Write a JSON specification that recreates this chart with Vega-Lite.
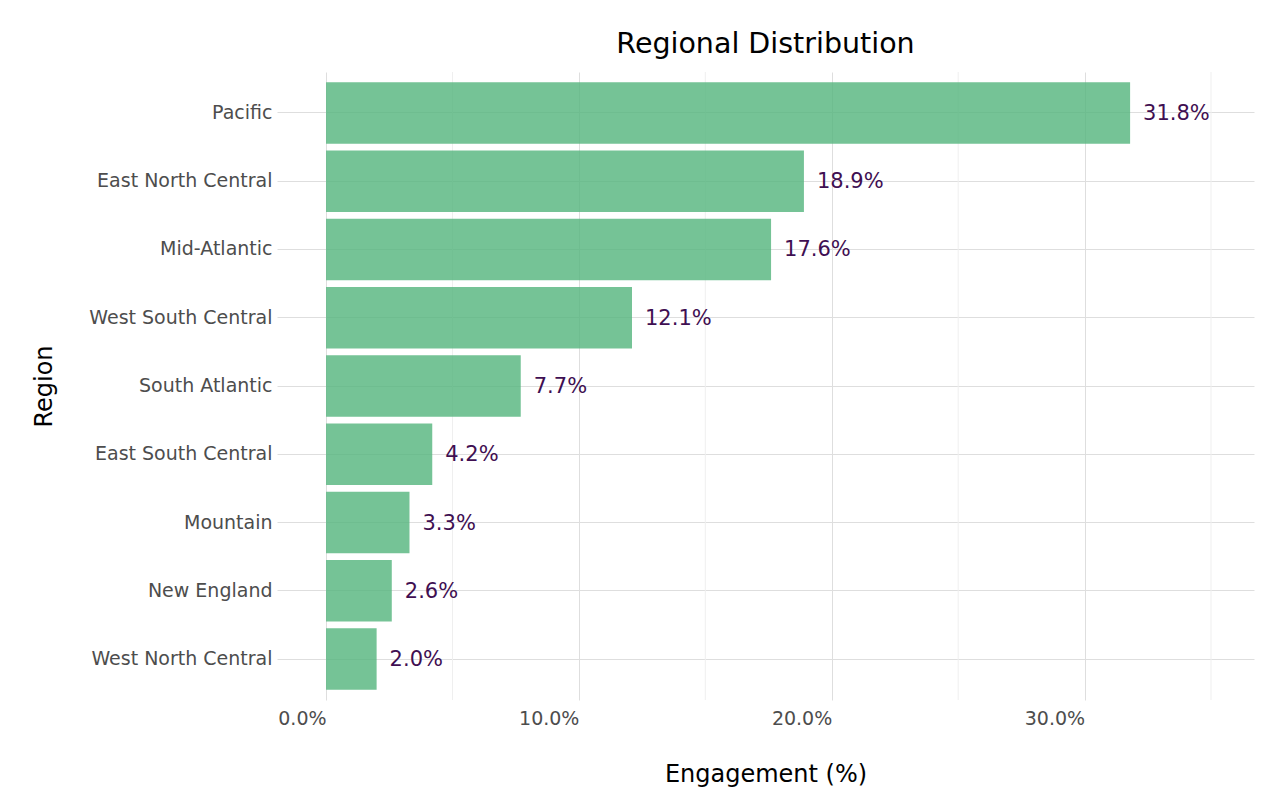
{
  "$schema": "https://vega.github.io/schema/vega-lite/v6.json",
  "autosize": {"type": "none"},
  "padding": {"left": 277, "top": 72, "right": 25, "bottom": 92},
  "width": 977,
  "height": 628,
  "background": "white",
  "title": {
    "text": "Regional Distribution",
    "fontSize": 28.5,
    "fontWeight": "normal",
    "color": "#000000",
    "anchor": "middle",
    "offset": 13
  },
  "datasets": {
    "regions": [
      {"region": "Pacific", "share": 31.8},
      {"region": "East North Central", "share": 18.9},
      {"region": "Mid-Atlantic", "share": 17.6},
      {"region": "West South Central", "share": 12.1},
      {"region": "South Atlantic", "share": 7.7},
      {"region": "East South Central", "share": 4.2},
      {"region": "Mountain", "share": 3.3},
      {"region": "New England", "share": 2.6},
      {"region": "West North Central", "share": 2.0}
    ],
    "minor": [{"v": 5}, {"v": 15}, {"v": 25}, {"v": 35}]
  },
  "layer": [
    {
      "data": {"name": "minor"},
      "mark": {"type": "rule", "color": "#efefef", "strokeWidth": 1},
      "encoding": {
        "x": {"field": "v", "type": "quantitative"}
      }
    },
    {
      "data": {"name": "regions"},
      "mark": {"type": "bar", "color": "#52b47c", "opacity": 0.8},
      "encoding": {
        "y": {
          "field": "region",
          "type": "nominal",
          "sort": ["Pacific", "East North Central", "Mid-Atlantic", "West South Central", "South Atlantic", "East South Central", "Mountain", "New England", "West North Central"],
          "scale": {"paddingInner": 0.1, "paddingOuter": 0.15},
          "axis": {
            "title": "Region",
            "titleFontSize": 24,
            "titleFontWeight": "normal",
            "titleColor": "#000000",
            "titlePadding": 32,
            "labelFontSize": 19,
            "labelColor": "#4d4d4d",
            "labelPadding": 5,
            "labelLimit": 300,
            "ticks": false,
            "domain": false,
            "grid": true,
            "gridColor": "#dedede"
          }
        },
        "x": {
          "field": "share",
          "type": "quantitative",
          "scale": {"domain": [-1.94, 36.7], "nice": false, "zero": false},
          "axis": {
            "title": "Engagement (%)",
            "titleFontSize": 24,
            "titleFontWeight": "normal",
            "titleColor": "#000000",
            "titlePadding": 34,
            "values": [0, 10, 20, 30],
            "labelExpr": "format(datum.value, '.1f') + '%'",
            "labelFontSize": 19,
            "labelColor": "#4d4d4d",
            "labelAlign": "right",
            "labelPadding": 9,
            "ticks": false,
            "domain": false,
            "grid": true,
            "gridColor": "#dedede"
          }
        }
      }
    },
    {
      "data": {"name": "regions"},
      "transform": [{"calculate": "format(datum.share, '.1f') + '%'", "as": "label"}],
      "mark": {"type": "text", "align": "left", "baseline": "middle", "dx": 13, "dy": 1, "fontSize": 21, "color": "#3f0f52"},
      "encoding": {
        "y": {
          "field": "region",
          "type": "nominal",
          "sort": ["Pacific", "East North Central", "Mid-Atlantic", "West South Central", "South Atlantic", "East South Central", "Mountain", "New England", "West North Central"]
        },
        "x": {"field": "share", "type": "quantitative"},
        "text": {"field": "label", "type": "nominal"}
      }
    }
  ],
  "config": {
    "font": "DejaVu Sans",
    "view": {"stroke": null}
  }
}
